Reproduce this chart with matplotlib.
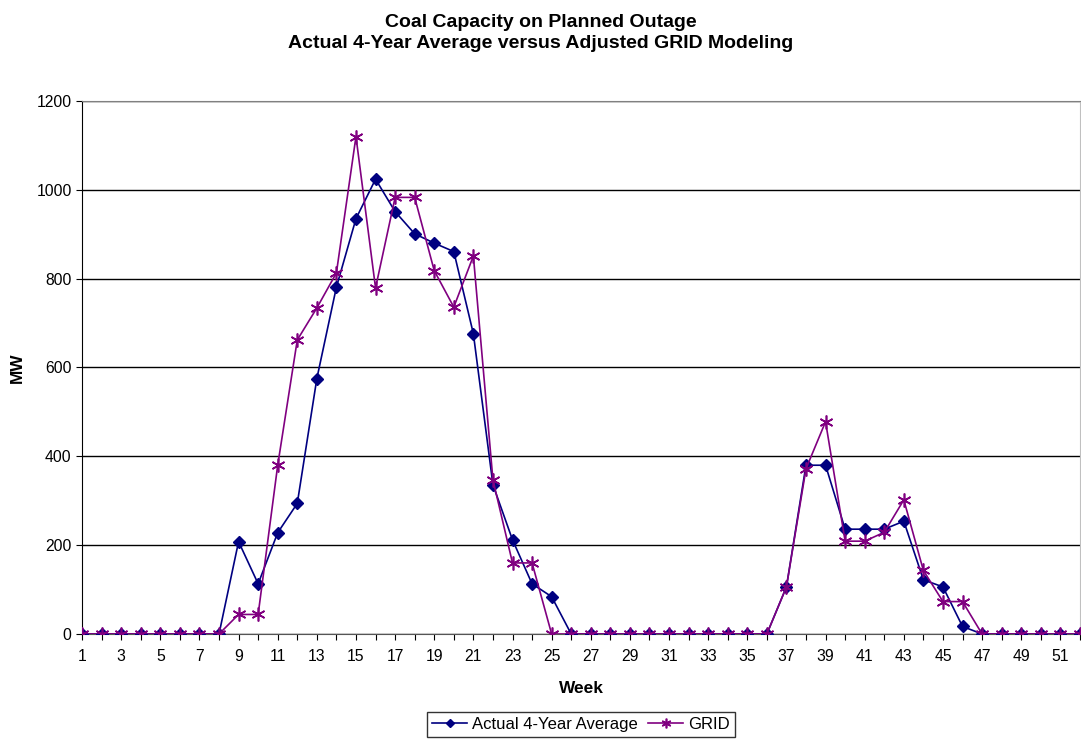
import matplotlib.pyplot as plt
import numpy as np

plt.rcParams['font.family'] = ['Liberation Sans', 'DejaVu Sans']

weeks = np.arange(1, 53)

actual = [0, 0, 0, 0, 0, 0, 0, 0, 208, 113, 228, 294, 575, 781, 935, 1024,
          951, 901, 880, 861, 676, 336, 212, 113, 84, 0, 0, 0, 0, 0,
          0, 0, 0, 0, 0, 0, 106, 380, 380, 236, 236, 236, 254, 122, 106, 17,
          0, 0, 0, 0, 0, 0]

grid = [0, 0, 0, 0, 0, 0, 0, 0, 44, 44, 380, 662, 734, 813, 1120, 779,
        983, 983, 818, 736, 851, 347, 160, 160, 0, 0, 0, 0, 0, 0,
        0, 0, 0, 0, 0, 0, 106, 372, 478, 209, 209, 229, 302, 143, 73, 73,
        0, 0, 0, 0, 0, 0]

fig = plt.figure(figsize=(10.81, 7.41), dpi=100)
ax = fig.add_axes([0.0759, 0.1444, 0.9231, 0.7193])

ax.plot(weeks, actual, color='#000080', marker='D', markersize=6, linewidth=1.2,
        label='Actual 4-Year Average', zorder=3)
ax.plot(weeks, grid, color='#800080', marker=(6, 2, 0), markersize=10, markeredgewidth=1.2,
        linewidth=1.2, label='GRID', zorder=4)

ax.set_xlim(1, 52)
ax.set_ylim(0, 1200)
ax.set_yticks(np.arange(0, 1201, 200))
ax.set_xticks(weeks)
ax.set_xticklabels([str(w) if w % 2 == 1 else '' for w in weeks])
ax.tick_params(axis='both', direction='out', length=4, labelsize=11.3, colors='black')
ax.tick_params(axis='x', pad=7)
ax.grid(axis='y', color='black', linewidth=1)
ax.set_axisbelow(True)

ax.spines['left'].set_color('black')
ax.spines['bottom'].set_color('#555555')
ax.spines['top'].set_color('#808080')
ax.spines['right'].set_color('#c0c0c0')

ax.set_xlabel('Week', fontsize=12.4, fontweight='bold', labelpad=12)
ax.set_ylabel('MW', fontsize=12.4, fontweight='bold')
ax.yaxis.set_label_coords(-0.057, 0.5)

fig.suptitle('Coal Capacity on Planned Outage\nActual 4-Year Average versus Adjusted GRID Modeling',
             fontsize=14, fontweight='bold', y=0.981, va='top', linespacing=1.32)

leg = fig.legend(loc='lower center', bbox_to_anchor=(0.5375, -0.006), ncol=2, fontsize=12,
                 frameon=True, fancybox=False, edgecolor='black', borderpad=0.3,
                 handlelength=2.1, handletextpad=0.3, columnspacing=0.6, markerscale=0.7)
leg.get_frame().set_linewidth(1)

plt.savefig('out.png', dpi=100)
